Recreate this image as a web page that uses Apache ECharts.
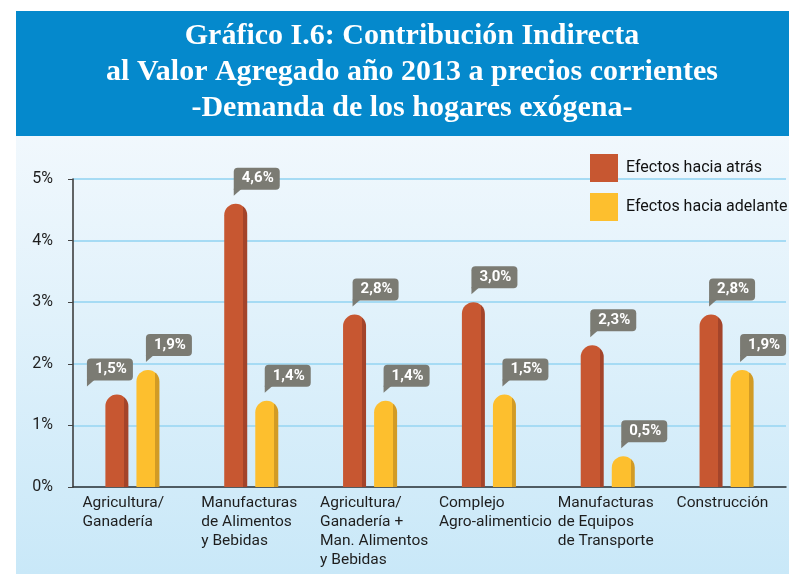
<!DOCTYPE html>
<html>
<head>
<meta charset="utf-8">
<script src="https://cdn.jsdelivr.net/npm/echarts@6/dist/echarts.min.js"></script>
<style>
  html, body { margin: 0; padding: 0; background: #fff; }
  #main { width: 789px; height: 574px; }
</style>
</head>
<body>
<div id="main"></div>
<script>
const categories = [
  "Agricultura/\nGanadería",
  "Manufacturas\nde Alimentos\ny Bebidas",
  "Agricultura/\nGanadería +\nMan. Alimentos\ny Bebidas",
  "Complejo\nAgro-alimenticio",
  "Manufacturas\nde Equipos\nde Transporte",
  "Construcción"
];
const haciaAtras = [1.5, 4.6, 2.8, 3.0, 2.3, 2.8];
const haciaAdelante = [1.9, 1.4, 1.4, 1.5, 0.5, 1.9];
const yTicks = [0, 1, 2, 3, 4, 5];

const chartDom = document.getElementById("main");
const myChart = echarts.init(chartDom);

const BAR_W = 23;
const HALF_STEP = 15.5; // (barWidth + gap) / 2

const fmt = (v) => v.toFixed(1).replace(".", ",") + "%";

const barColor = (main, dark) =>
  new echarts.graphic.LinearGradient(0, 0, 1, 0, [
    { offset: 0, color: main },
    { offset: 0.82, color: main },
    { offset: 0.82, color: dark },
    { offset: 1, color: dark }
  ]);

// speech bubble label drawn over each bar
const bubble = (side) => (params, api) => {
  const val = api.value(1);
  const other = api.value(2);
  const p = api.coord([api.value(0), val]);
  const cx = p[0] + side * HALF_STEP;
  const w = 46, h = 22;
  const flip = side < 0 && other > val;
  const left = flip ? cx - 30 : cx - 2;
  const bottom = p[1] - 14;
  return {
    type: "group",
    children: [
      {
        type: "rect",
        shape: { x: left, y: bottom - h, width: w, height: h, r: [4, 4, 4, 0] },
        style: { fill: "#7b7b73" }
      },
      {
        type: "polygon",
        shape: { points: [[left, bottom - 1], [left + 8, bottom - 1], [left, bottom + 6]] },
        style: { fill: "#7b7b73" }
      },
      {
        type: "text",
        style: {
          x: left + w / 2 + 1,
          y: bottom - h / 2,
          text: fmt(val),
          fill: "#fff",
          font: "bold 15px Roboto",
          align: "center",
          verticalAlign: "middle"
        }
      }
    ]
  };
};

const option = {
  animation: false,
  graphic: [
    {
      type: "rect",
      z: -10,
      shape: { x: 16, y: 136, width: 773, height: 438 },
      style: {
        fill: new echarts.graphic.LinearGradient(0, 0, 0, 1, [
          { offset: 0, color: "#f1f8fd" },
          { offset: 1, color: "#c9e8f8" }
        ])
      }
    },
    {
      type: "rect",
      z: -10,
      shape: { x: 16, y: 11, width: 773, height: 125 },
      style: { fill: "#0589cc" }
    }
  ],
  title: {
    text: "Gráfico I.6: Contribución Indirecta\nal Valor Agregado año 2013 a precios corrientes\n-Demanda de los hogares exógena-",
    left: 412,
    top: 18,
    padding: 0,
    textAlign: "center",
    textStyle: {
      color: "#fff",
      fontFamily: "Liberation Serif",
      fontWeight: "bold",
      fontSize: 30,
      lineHeight: 36
    }
  },
  legend: {
    orient: "vertical",
    left: 585,
    top: 149,
    itemWidth: 28,
    itemHeight: 28,
    itemGap: 11,
    icon: "rect",
    textStyle: {
      color: "#111",
      fontFamily: "Roboto",
      fontSize: 16,
      padding: [0, 0, 0, 3]
    },
    data: [
      { name: "Efectos hacia atrás", itemStyle: { color: "#c75731" } },
      { name: "Efectos hacia adelante", itemStyle: { color: "#fdbf2e" } }
    ]
  },
  grid: { left: 73, right: 3, top: 179, bottom: 87 },
  xAxis: {
    type: "category",
    data: categories,
    axisLine: { lineStyle: { color: "#333", width: 1.5 } },
    axisTick: { inside: true, length: 5, lineStyle: { color: "#444" } },
    axisLabel: {
      interval: 0,
      margin: 7,
      formatter: (v) => "{a|" + v.split("\n").join("}\n{a|") + "}",
      rich: {
        a: {
          width: 100,
          align: "left",
          fontFamily: "Roboto",
          fontSize: 15.5,
          lineHeight: 19,
          color: "#1e1e1e"
        }
      }
    }
  },
  yAxis: {
    type: "value",
    min: yTicks[0],
    max: yTicks[yTicks.length - 1],
    interval: 1,
    axisLine: { show: true, lineStyle: { color: "#333", width: 1.5 } },
    axisTick: { show: true, length: 5, lineStyle: { color: "#444" } },
    axisLabel: {
      formatter: "{value}%",
      margin: 20,
      fontFamily: "Roboto",
      fontSize: 16,
      color: "#1e1e1e"
    },
    splitLine: { lineStyle: { color: "#a6dbf4", width: 2 } }
  },
  series: [
    {
      name: "Efectos hacia atrás",
      type: "bar",
      barWidth: BAR_W,
      barGap: "35%",
      data: haciaAtras,
      itemStyle: {
        color: barColor("#c75731", "#a4442a"),
        borderRadius: [11.5, 11.5, 0, 0]
      }
    },
    {
      name: "Efectos hacia adelante",
      type: "bar",
      barWidth: BAR_W,
      data: haciaAdelante,
      itemStyle: {
        color: barColor("#fdbf2e", "#d29b25"),
        borderRadius: [11.5, 11.5, 0, 0]
      }
    },
    {
      type: "custom",
      z: 5,
      renderItem: bubble(-1),
      data: haciaAtras.map((v, i) => [i, v, haciaAdelante[i]])
    },
    {
      type: "custom",
      z: 5,
      renderItem: bubble(1),
      data: haciaAdelante.map((v, i) => [i, v, haciaAtras[i]])
    }
  ]
};

option && myChart.setOption(option);
</script>
</body>
</html>
